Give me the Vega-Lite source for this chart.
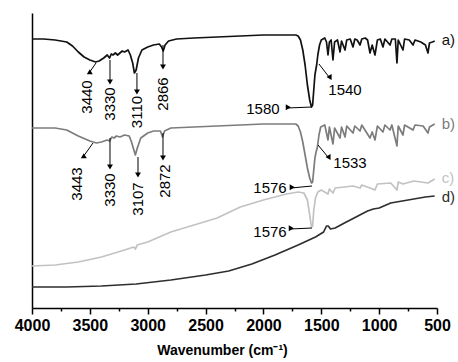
{
  "$schema": "https://vega.github.io/schema/vega-lite/v6.json",
  "width": 405,
  "height": 295,
  "autosize": {"type": "none"},
  "padding": {"left": 32, "top": 13, "right": 21, "bottom": 54},
  "background": "white",
  "config": {"view": {"stroke": null}, "font": "Liberation Sans"},
  "datasets": {
    "spec": [
      {"s":"a","w":4000,"v":269},{"s":"a","w":3900,"v":269},{"s":"a","w":3800,"v":268},{"s":"a","w":3700,"v":266},{"s":"a","w":3650,"v":262},{"s":"a","w":3600,"v":256},{"s":"a","w":3550,"v":251},{"s":"a","w":3500,"v":248},{"s":"a","w":3450,"v":246},{"s":"a","w":3420,"v":247},{"s":"a","w":3380,"v":250},{"s":"a","w":3350,"v":253},{"s":"a","w":3330,"v":250},{"s":"a","w":3315,"v":254},{"s":"a","w":3300,"v":253},{"s":"a","w":3280,"v":255},{"s":"a","w":3260,"v":253},{"s":"a","w":3240,"v":255},{"s":"a","w":3220,"v":257},{"s":"a","w":3200,"v":256},{"s":"a","w":3170,"v":258},{"s":"a","w":3150,"v":253},{"s":"a","w":3130,"v":245},{"s":"a","w":3115,"v":235},{"s":"a","w":3100,"v":238},{"s":"a","w":3080,"v":250},{"s":"a","w":3050,"v":258},{"s":"a","w":3000,"v":261},{"s":"a","w":2950,"v":263},{"s":"a","w":2900,"v":264},{"s":"a","w":2880,"v":261},{"s":"a","w":2866,"v":257},{"s":"a","w":2850,"v":263},{"s":"a","w":2820,"v":267},{"s":"a","w":2750,"v":269},{"s":"a","w":2600,"v":270},{"s":"a","w":2400,"v":271},{"s":"a","w":2200,"v":272},{"s":"a","w":2000,"v":273},{"s":"a","w":1800,"v":273},{"s":"a","w":1720,"v":273},{"s":"a","w":1700,"v":272},{"s":"a","w":1680,"v":268},{"s":"a","w":1660,"v":258},{"s":"a","w":1640,"v":243},{"s":"a","w":1620,"v":223},{"s":"a","w":1600,"v":208},{"s":"a","w":1585,"v":201},{"s":"a","w":1575,"v":203},{"s":"a","w":1565,"v":218},{"s":"a","w":1555,"v":233},{"s":"a","w":1545,"v":240},{"s":"a","w":1540,"v":243},{"s":"a","w":1530,"v":253},{"s":"a","w":1515,"v":263},{"s":"a","w":1500,"v":268},{"s":"a","w":1470,"v":270},{"s":"a","w":1455,"v":266},{"s":"a","w":1442,"v":253},{"s":"a","w":1430,"v":266},{"s":"a","w":1415,"v":268},{"s":"a","w":1399,"v":248},{"s":"a","w":1385,"v":266},{"s":"a","w":1360,"v":268},{"s":"a","w":1338,"v":256},{"s":"a","w":1325,"v":267},{"s":"a","w":1295,"v":258},{"s":"a","w":1280,"v":268},{"s":"a","w":1250,"v":269},{"s":"a","w":1226,"v":261},{"s":"a","w":1210,"v":269},{"s":"a","w":1190,"v":268},{"s":"a","w":1165,"v":263},{"s":"a","w":1150,"v":269},{"s":"a","w":1120,"v":270},{"s":"a","w":1100,"v":268},{"s":"a","w":1079,"v":255},{"s":"a","w":1060,"v":263},{"s":"a","w":1036,"v":253},{"s":"a","w":1015,"v":268},{"s":"a","w":990,"v":269},{"s":"a","w":967,"v":261},{"s":"a","w":950,"v":269},{"s":"a","w":906,"v":263},{"s":"a","w":890,"v":269},{"s":"a","w":860,"v":269},{"s":"a","w":846,"v":245},{"s":"a","w":835,"v":268},{"s":"a","w":794,"v":258},{"s":"a","w":780,"v":269},{"s":"a","w":740,"v":268},{"s":"a","w":707,"v":263},{"s":"a","w":690,"v":268},{"s":"a","w":640,"v":266},{"s":"a","w":600,"v":263},{"s":"a","w":578,"v":255},{"s":"a","w":565,"v":265},{"s":"a","w":540,"v":266},{"s":"a","w":520,"v":267},
      {"s":"b","w":4000,"v":180},{"s":"b","w":3800,"v":180},{"s":"b","w":3700,"v":178},{"s":"b","w":3600,"v":172},{"s":"b","w":3500,"v":167},{"s":"b","w":3443,"v":165},{"s":"b","w":3400,"v":166},{"s":"b","w":3350,"v":168},{"s":"b","w":3330,"v":167},{"s":"b","w":3310,"v":171},{"s":"b","w":3290,"v":170},{"s":"b","w":3270,"v":172},{"s":"b","w":3240,"v":171},{"s":"b","w":3200,"v":173},{"s":"b","w":3160,"v":172},{"s":"b","w":3140,"v":166},{"s":"b","w":3107,"v":153},{"s":"b","w":3090,"v":160},{"s":"b","w":3060,"v":170},{"s":"b","w":3000,"v":175},{"s":"b","w":2950,"v":177},{"s":"b","w":2890,"v":177},{"s":"b","w":2872,"v":171},{"s":"b","w":2855,"v":177},{"s":"b","w":2800,"v":180},{"s":"b","w":2600,"v":181},{"s":"b","w":2400,"v":182},{"s":"b","w":2200,"v":183},{"s":"b","w":2000,"v":184},{"s":"b","w":1800,"v":184},{"s":"b","w":1720,"v":184},{"s":"b","w":1700,"v":182},{"s":"b","w":1680,"v":176},{"s":"b","w":1660,"v":166},{"s":"b","w":1640,"v":153},{"s":"b","w":1620,"v":140},{"s":"b","w":1600,"v":130},{"s":"b","w":1585,"v":125},{"s":"b","w":1575,"v":126},{"s":"b","w":1565,"v":138},{"s":"b","w":1555,"v":150},{"s":"b","w":1545,"v":156},{"s":"b","w":1535,"v":160},{"s":"b","w":1520,"v":173},{"s":"b","w":1505,"v":181},{"s":"b","w":1470,"v":183},{"s":"b","w":1442,"v":168},{"s":"b","w":1430,"v":181},{"s":"b","w":1399,"v":164},{"s":"b","w":1385,"v":180},{"s":"b","w":1338,"v":170},{"s":"b","w":1325,"v":181},{"s":"b","w":1295,"v":171},{"s":"b","w":1280,"v":182},{"s":"b","w":1226,"v":175},{"s":"b","w":1210,"v":182},{"s":"b","w":1165,"v":177},{"s":"b","w":1150,"v":183},{"s":"b","w":1079,"v":170},{"s":"b","w":1060,"v":176},{"s":"b","w":1036,"v":168},{"s":"b","w":1015,"v":182},{"s":"b","w":967,"v":176},{"s":"b","w":950,"v":183},{"s":"b","w":906,"v":178},{"s":"b","w":890,"v":183},{"s":"b","w":846,"v":162},{"s":"b","w":835,"v":182},{"s":"b","w":794,"v":173},{"s":"b","w":780,"v":183},{"s":"b","w":707,"v":178},{"s":"b","w":690,"v":183},{"s":"b","w":620,"v":182},{"s":"b","w":578,"v":175},{"s":"b","w":565,"v":181},{"s":"b","w":520,"v":184},
      {"s":"c","w":4000,"v":42},{"s":"c","w":3800,"v":43},{"s":"c","w":3600,"v":46},{"s":"c","w":3400,"v":51},{"s":"c","w":3200,"v":58},{"s":"c","w":3120,"v":61},{"s":"c","w":3107,"v":59},{"s":"c","w":3090,"v":63},{"s":"c","w":3000,"v":66},{"s":"c","w":2800,"v":76},{"s":"c","w":2600,"v":83},{"s":"c","w":2400,"v":90},{"s":"c","w":2200,"v":101},{"s":"c","w":2000,"v":108},{"s":"c","w":1800,"v":114},{"s":"c","w":1700,"v":116},{"s":"c","w":1650,"v":115},{"s":"c","w":1620,"v":108},{"s":"c","w":1600,"v":93},{"s":"c","w":1585,"v":81},{"s":"c","w":1575,"v":82},{"s":"c","w":1565,"v":98},{"s":"c","w":1550,"v":110},{"s":"c","w":1530,"v":116},{"s":"c","w":1500,"v":118},{"s":"c","w":1442,"v":114},{"s":"c","w":1430,"v":119},{"s":"c","w":1399,"v":115},{"s":"c","w":1380,"v":120},{"s":"c","w":1300,"v":121},{"s":"c","w":1226,"v":122},{"s":"c","w":1165,"v":120},{"s":"c","w":1150,"v":123},{"s":"c","w":1079,"v":120},{"s":"c","w":1036,"v":118},{"s":"c","w":1015,"v":124},{"s":"c","w":900,"v":125},{"s":"c","w":846,"v":118},{"s":"c","w":835,"v":126},{"s":"c","w":794,"v":124},{"s":"c","w":700,"v":127},{"s":"c","w":578,"v":125},{"s":"c","w":520,"v":129},
      {"s":"d","w":4000,"v":21},{"s":"d","w":3700,"v":21},{"s":"d","w":3400,"v":22},{"s":"d","w":3100,"v":24},{"s":"d","w":2800,"v":28},{"s":"d","w":2500,"v":33},{"s":"d","w":2300,"v":37},{"s":"d","w":2100,"v":44},{"s":"d","w":1900,"v":53},{"s":"d","w":1700,"v":63},{"s":"d","w":1550,"v":71},{"s":"d","w":1480,"v":76},{"s":"d","w":1455,"v":82},{"s":"d","w":1440,"v":82},{"s":"d","w":1420,"v":79},{"s":"d","w":1380,"v":80},{"s":"d","w":1300,"v":85},{"s":"d","w":1200,"v":91},{"s":"d","w":1100,"v":97},{"s":"d","w":1050,"v":99},{"s":"d","w":1000,"v":100},{"s":"d","w":900,"v":105},{"s":"d","w":800,"v":107},{"s":"d","w":700,"v":109},{"s":"d","w":600,"v":111},{"s":"d","w":520,"v":112}
    ],
    "arr": [
      {"w1":3447,"v1":245,"w2":3507,"v2":235,"dir":"dl"},
      {"w1":3326,"v1":248,"w2":3326,"v2":226,"dir":"down"},
      {"w1":3093,"v1":235,"w2":3093,"v2":216,"dir":"down"},
      {"w1":2868,"v1":263,"w2":2868,"v2":241,"dir":"down"},
      {"w1":1580,"v1":201,"w2":1796,"v2":200,"dir":"left"},
      {"w1":1520,"v1":244,"w2":1433,"v2":231,"dir":"dr"},
      {"w1":3473,"v1":165,"w2":3559,"v2":151,"dir":"dl"},
      {"w1":3326,"v1":170,"w2":3326,"v2":141,"dir":"down"},
      {"w1":3084,"v1":151,"w2":3084,"v2":133,"dir":"down"},
      {"w1":2868,"v1":175,"w2":2868,"v2":150,"dir":"down"},
      {"w1":1528,"v1":163,"w2":1442,"v2":151,"dir":"dr"},
      {"w1":1580,"v1":122,"w2":1762,"v2":120,"dir":"left"},
      {"w1":1580,"v1":80,"w2":1770,"v2":79,"dir":"left"}
    ],
    "annR": [
      {"t":"3440","w":3525,"v":211},
      {"t":"3330","w":3326,"v":204},
      {"t":"3110","w":3093,"v":196},
      {"t":"2866","w":2868,"v":214},
      {"t":"3443","w":3611,"v":124},
      {"t":"3330","w":3326,"v":118},
      {"t":"3107","w":3084,"v":109},
      {"t":"2872","w":2851,"v":127}
    ],
    "annH": [
      {"t":"1580","w":2004,"v":199},
      {"t":"1540","w":1295,"v":218},
      {"t":"1533","w":1252,"v":145},
      {"t":"1576","w":1943,"v":120},
      {"t":"1576","w":1943,"v":76}
    ],
    "lab": [
      {"t":"a)","s":"a","w":460,"v":268},
      {"t":"b)","s":"b","w":460,"v":184},
      {"t":"c)","s":"c","w":460,"v":130},
      {"t":"d)","s":"d","w":460,"v":111}
    ]
  },
  "encoding": {
    "x": {
      "field": "w", "type": "quantitative",
      "scale": {"domain": [4000, 500], "nice": false, "zero": false},
      "axis": {
        "values": [4000,3750,3500,3250,3000,2750,2500,2250,2000,1750,1500,1250,1000,750,500],
        "format": "d",
        "labelExpr": "datum.value % 500 === 0 ? datum.label : ''",
        "tickSize": {"condition": {"test": "datum.value % 500 !== 0", "value": 3}, "value": 6},
        "tickColor": "#000", "tickWidth": 1.5,
        "domainColor": "#000", "domainWidth": 1.5,
        "grid": false,
        "labelFont": "Liberation Sans", "labelFontWeight": "bold", "labelFontSize": 16,
        "labelColor": "#000", "labelPadding": 3, "labelFlush": false,
        "title": "Wavenumber (cm⁻¹)",
        "titleFont": "Liberation Sans", "titleFontWeight": "bold", "titleFontSize": 14,
        "titleColor": "#000", "titlePadding": 10, "titleX": 190
      }
    },
    "y": {
      "field": "v", "type": "quantitative",
      "scale": {"domain": [0, 295], "nice": false, "zero": false},
      "axis": {"labels": false, "ticks": false, "title": null, "grid": false, "domainColor": "#000", "domainWidth": 1.5}
    }
  },
  "layer": [
    {
      "data": {"name": "spec"},
      "mark": {"type": "line", "strokeWidth": 1.7, "strokeJoin": "round"},
      "encoding": {
        "color": {"field": "s", "type": "nominal", "legend": null,
          "scale": {"domain": ["a","b","c","d"], "range": ["#111111","#7c7c7c","#c2c2c2","#2e2e2e"]}}
      }
    },
    {
      "data": {"name": "arr"},
      "mark": {"type": "rule", "color": "#000", "strokeWidth": 1},
      "encoding": {
        "x": {"field": "w1", "type": "quantitative"},
        "y": {"field": "v1", "type": "quantitative"},
        "x2": {"field": "w2"},
        "y2": {"field": "v2"}
      }
    },
    {
      "data": {"name": "arr"},
      "mark": {"type": "point", "shape": "triangle-up", "filled": true, "color": "#000", "size": 35, "opacity": 1},
      "encoding": {
        "x": {"field": "w2", "type": "quantitative"},
        "y": {"field": "v2", "type": "quantitative"},
        "angle": {"field": "dir", "type": "ordinal", "legend": null,
          "scale": {"domain": ["down","left","dl","dr"], "range": [180, 270, 215, 145]}}
      }
    },
    {
      "data": {"name": "annR"},
      "mark": {"type": "text", "angle": 270, "align": "center", "baseline": "middle", "fontSize": 15, "font": "Liberation Sans", "color": "#000"},
      "encoding": {"text": {"field": "t"}}
    },
    {
      "data": {"name": "annH"},
      "mark": {"type": "text", "align": "center", "baseline": "middle", "fontSize": 15, "font": "Liberation Sans", "color": "#000"},
      "encoding": {"text": {"field": "t"}}
    },
    {
      "data": {"name": "lab"},
      "mark": {"type": "text", "align": "left", "baseline": "middle", "fontSize": 15, "font": "Liberation Sans"},
      "encoding": {
        "text": {"field": "t"},
        "color": {"field": "s", "type": "nominal", "legend": null}
      }
    }
  ]
}
